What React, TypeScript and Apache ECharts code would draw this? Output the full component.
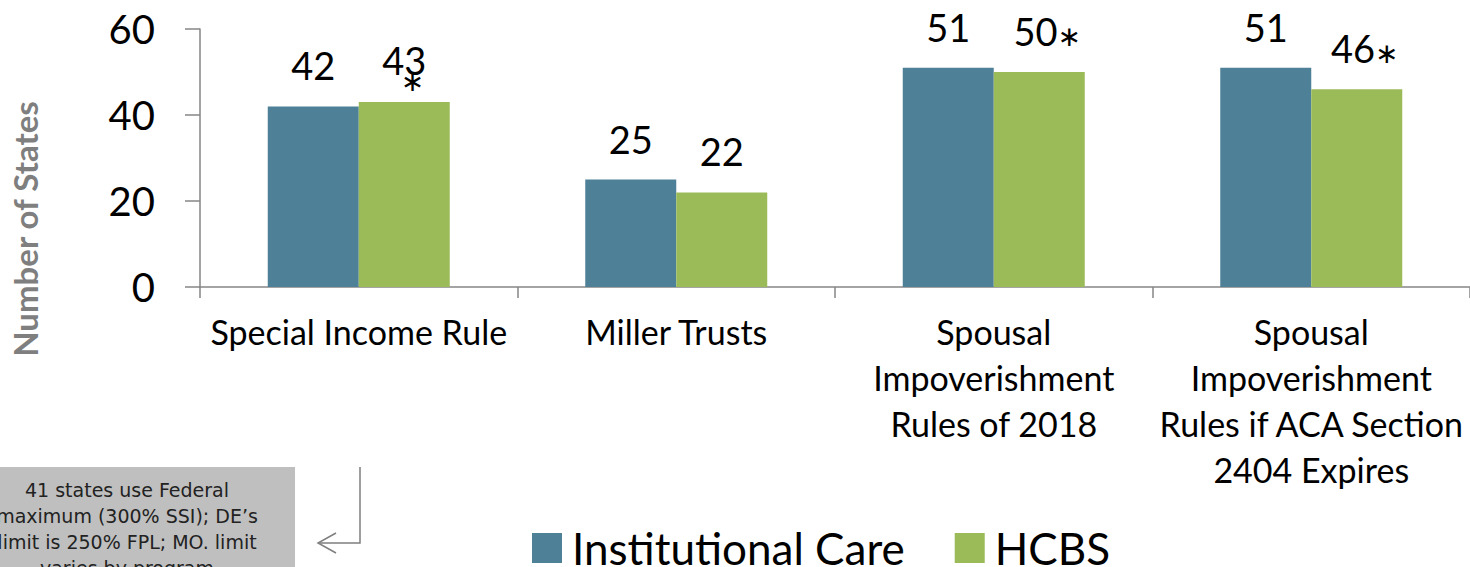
import React, { useEffect, useRef } from "react";
import * as echarts from "echarts";

const categories = [
  "Special Income Rule",
  "Miller Trusts",
  "Spousal\nImpoverishment\nRules of 2018",
  "Spousal\nImpoverishment\nRules if ACA Section\n2404 Expires",
];
const institutionalCare = [42, 25, 51, 51];
const hcbs = [43, 22, 50, 46];
// asterisk notes on HCBS values: "below" = under the number, "sub" = subscript after it
const hcbsNotes = ["below", "", "sub", "sub"];
const yTicks = { min: 0, max: 60, interval: 20 };
const noteLines = [
  "41 states use Federal",
  "maximum (300% SSI); DE\u2019s",
  "limit is 250% FPL; MO. limit",
  "varies by program",
];

const BLUE = "#4e8197";
const GREEN = "#9bbb59";
const AXIS = "#868686";
const FONT = "Lato";

export default function App() {
  const ref = useRef<HTMLDivElement>(null);
  useEffect(() => {
    if (!ref.current) return;
    const chart = echarts.init(ref.current, null, { renderer: "svg" });
    const valueLabel = {
      show: true,
      position: "top",
      distance: 22,
      color: "#000",
      fontFamily: FONT,
      fontSize: 38,
      lineHeight: 38,
    };
    chart.setOption({
      animation: false,
      grid: { left: 200, top: 29, width: 1272, height: 258, containLabel: false },
      legend: {
        left: 532,
        top: 526,
        padding: 0,
        itemGap: 50,
        itemWidth: 30,
        itemHeight: 30,
        icon: "rect",
        textStyle: {
          fontFamily: FONT,
          fontSize: 44,
          lineHeight: 44,
          color: "#000",
          padding: [0, 0, 0, 5],
        },
        data: ["Institutional Care", "HCBS"],
      },
      xAxis: {
        type: "category",
        data: categories,
        axisLine: { lineStyle: { color: AXIS, width: 1.5 } },
        axisTick: { show: true, length: 11, alignWithLabel: false, lineStyle: { color: AXIS, width: 1.5 } },
        axisLabel: {
          interval: 0,
          margin: 21,
          color: "#000",
          fontFamily: FONT,
          fontSize: 34,
          lineHeight: 46,
        },
      },
      yAxis: {
        type: "value",
        min: yTicks.min,
        max: yTicks.max,
        interval: yTicks.interval,
        axisLine: { show: true, lineStyle: { color: AXIS, width: 1.5 } },
        axisTick: { show: true, length: 15, lineStyle: { color: AXIS, width: 1.5 } },
        splitLine: { show: false },
        axisLabel: {
          margin: 45,
          color: "#000",
          fontFamily: FONT,
          fontSize: 40,
        },
      },
      series: [
        {
          name: "Institutional Care",
          type: "bar",
          data: institutionalCare,
          barWidth: 91,
          barGap: "0%",
          itemStyle: { color: BLUE },
          label: valueLabel,
        },
        {
          name: "HCBS",
          type: "bar",
          data: hcbs,
          barWidth: 91,
          barGap: "0%",
          itemStyle: { color: GREEN },
          label: {
            ...valueLabel,
            formatter: (p: any) => {
              const note = hcbsNotes[p.dataIndex];
              if (note === "below") return `{v|${p.value}}\n{a|\u2217}`;
              if (note === "sub") return `{p|${p.value}}{s|\u2217}`;
              return `{v|${p.value}}`;
            },
            rich: {
              v: { fontFamily: FONT, fontSize: 38, lineHeight: 38, color: "#000" },
              p: { fontFamily: FONT, fontSize: 38, lineHeight: 38, color: "#000", padding: [0, 0, 0, 16] },
              a: {
                fontFamily: "DejaVu Sans",
                fontSize: 28,
                lineHeight: 1,
                color: "#000",
                align: "right",
                padding: [3, 2, 0, 0],
              },
              s: {
                fontFamily: "DejaVu Sans",
                fontSize: 28,
                lineHeight: 14,
                color: "#000",
                verticalAlign: "bottom",
              },
            },
          },
        },
      ],
      graphic: [
        {
          type: "text",
          x: 25,
          y: 229,
          rotation: Math.PI / 2,
          style: {
            text: "Number of States",
            fontFamily: FONT,
            fontWeight: "bold",
            fontSize: 33,
            fill: "#7f7f7f",
            align: "center",
            verticalAlign: "middle",
          },
        },
        {
          type: "rect",
          shape: { x: -40, y: 467, width: 335, height: 120 },
          style: { fill: "#bfbfbf" },
        },
        {
          type: "text",
          x: 127,
          y: 477,
          style: {
            text: noteLines.join("\n"),
            fontFamily: "DejaVu Sans",
            fontSize: 19,
            lineHeight: 26,
            fill: "#222",
            align: "center",
            verticalAlign: "top",
          },
        },
        {
          type: "polyline",
          shape: { points: [[360, 467], [360, 543], [318, 543]] },
          style: { stroke: "#7f7f7f", lineWidth: 1.5, fill: "none" },
        },
        {
          type: "polyline",
          shape: { points: [[336, 533], [318, 543], [336, 553]] },
          style: { stroke: "#7f7f7f", lineWidth: 1.5, fill: "none" },
        },
      ],
    });
    return () => chart.dispose();
  }, []);
  return (
    <div
      ref={ref}
      style={{ position: "absolute", left: 0, top: 0, width: 1470, height: 567 }}
    />
  );
}
